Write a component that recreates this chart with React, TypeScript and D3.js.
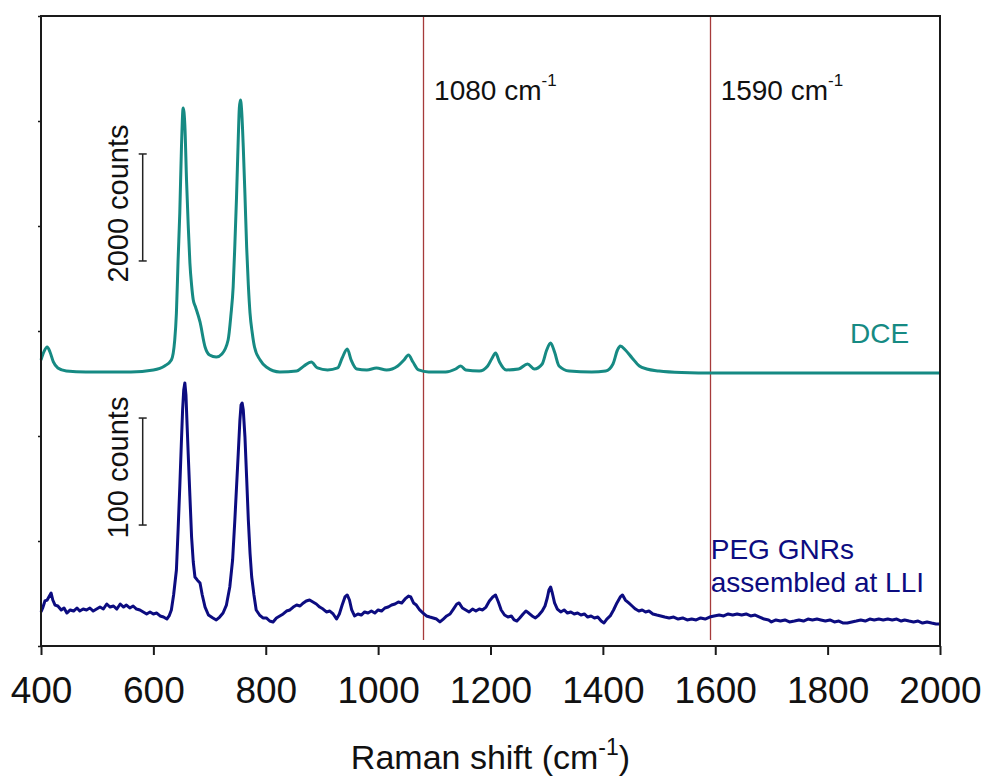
import React, { useEffect, useRef } from 'react';
import * as d3 from 'd3';

// Raman spectra of DCE and PEG GNRs assembled at the liquid-liquid interface
const WIDTH = 985;
const HEIGHT = 778;
const FONT = '"Liberation Sans", Arial, Helvetica, sans-serif';

const xTicks = [400, 600, 800, 1000, 1200, 1400, 1600, 1800, 2000];
const yTicks = [0, 1, 2, 3, 4, 5, 6];
const markerShifts = [1080, 1590];

// [Raman shift (cm-1), offset intensity (a.u.)]
const dceSpectrum: [number, number][] = [
  [400, 2.724], [405, 2.8], [411, 2.848], [416, 2.8], [422, 2.705], [430, 2.648], [445, 2.619],
  [480, 2.61], [520, 2.61], [560, 2.61], [600, 2.629], [620, 2.667], [632, 2.724], [638, 2.914],
  [641, 3.171], [644, 3.676], [647, 4.124], [650, 4.752], [653, 5.124], [656, 4.962], [659, 4.438],
  [662, 4.01], [665, 3.648], [668, 3.438], [671, 3.295], [675, 3.229], [683, 3.086], [692, 2.848],
  [700, 2.771], [712, 2.752], [722, 2.781], [733, 2.914], [738, 3.152], [742, 3.419], [745, 3.819],
  [748, 4.276], [751, 4.819], [753, 5.124], [755, 5.2], [757, 5.105], [760, 4.752], [763, 4.295],
  [766, 3.8], [769, 3.438], [772, 3.171], [776, 2.981], [780, 2.848], [790, 2.724], [801, 2.657],
  [825, 2.61], [855, 2.619], [868, 2.667], [881, 2.705], [892, 2.648], [910, 2.629], [928, 2.648],
  [936, 2.743], [945, 2.829], [952, 2.724], [962, 2.638], [980, 2.629], [997, 2.648], [1015, 2.629],
  [1035, 2.667], [1046, 2.724], [1054, 2.771], [1062, 2.705], [1072, 2.629], [1090, 2.61], [1120, 2.61],
  [1138, 2.638], [1147, 2.667], [1156, 2.629], [1180, 2.619], [1195, 2.667], [1203, 2.743], [1209, 2.79],
  [1216, 2.705], [1228, 2.629], [1250, 2.638], [1266, 2.686], [1278, 2.638], [1292, 2.686], [1300, 2.819],
  [1307, 2.886], [1314, 2.8], [1322, 2.667], [1340, 2.619], [1380, 2.61], [1405, 2.619], [1418, 2.686],
  [1426, 2.819], [1431, 2.857], [1440, 2.819], [1452, 2.743], [1465, 2.667], [1478, 2.638], [1500, 2.619],
  [1540, 2.605], [1600, 2.6], [1800, 2.6], [2000, 2.6],
];

const pegSpectrum: [number, number][] = [
  [400, 0.324], [403, 0.362], [407, 0.429], [411, 0.438], [415, 0.476], [418, 0.505], [421, 0.438],
  [425, 0.39], [430, 0.381], [436, 0.343], [441, 0.362], [446, 0.314], [452, 0.343], [458, 0.333],
  [464, 0.362], [469, 0.333], [475, 0.352], [481, 0.343], [487, 0.362], [493, 0.333], [499, 0.352],
  [505, 0.371], [511, 0.352], [517, 0.4], [523, 0.371], [529, 0.381], [535, 0.352], [541, 0.4],
  [547, 0.371], [552, 0.39], [558, 0.362], [564, 0.381], [570, 0.352], [576, 0.343], [582, 0.324],
  [588, 0.305], [594, 0.324], [600, 0.305], [606, 0.314], [612, 0.286], [618, 0.276], [624, 0.257],
  [628, 0.286], [632, 0.343], [636, 0.486], [641, 0.724], [644, 1.105], [647, 1.514], [650, 1.962],
  [652, 2.248], [654, 2.438], [656, 2.505], [658, 2.39], [660, 2.105], [662, 1.829], [665, 1.429],
  [668, 1.038], [671, 0.8], [674, 0.657], [678, 0.629], [683, 0.6], [687, 0.486], [692, 0.371],
  [698, 0.295], [706, 0.267], [712, 0.248], [718, 0.276], [724, 0.314], [730, 0.39], [736, 0.562],
  [741, 0.819], [745, 1.2], [748, 1.514], [751, 1.829], [754, 2.152], [756, 2.295], [758, 2.314],
  [760, 2.248], [763, 1.99], [766, 1.6], [769, 1.2], [772, 0.886], [775, 0.657], [779, 0.486],
  [783, 0.343], [789, 0.295], [795, 0.267], [801, 0.267], [807, 0.238], [813, 0.229], [819, 0.267],
  [825, 0.286], [831, 0.305], [837, 0.333], [843, 0.343], [849, 0.371], [855, 0.39], [861, 0.381],
  [867, 0.41], [872, 0.429], [878, 0.438], [884, 0.419], [890, 0.4], [896, 0.371], [902, 0.352],
  [908, 0.324], [914, 0.333], [920, 0.305], [926, 0.257], [931, 0.305], [936, 0.39], [941, 0.467],
  [945, 0.486], [949, 0.438], [953, 0.343], [958, 0.286], [964, 0.305], [970, 0.295], [976, 0.324],
  [982, 0.314], [988, 0.333], [994, 0.314], [1000, 0.343], [1006, 0.333], [1012, 0.362], [1018, 0.371],
  [1024, 0.39], [1030, 0.4], [1036, 0.419], [1042, 0.41], [1048, 0.448], [1054, 0.476], [1058, 0.467],
  [1063, 0.41], [1068, 0.39], [1074, 0.343], [1080, 0.314], [1086, 0.286], [1092, 0.276], [1098, 0.267],
  [1104, 0.257], [1110, 0.229], [1116, 0.257], [1122, 0.286], [1128, 0.305], [1134, 0.352], [1140, 0.4],
  [1144, 0.41], [1150, 0.362], [1156, 0.343], [1162, 0.324], [1168, 0.352], [1174, 0.333], [1180, 0.352],
  [1186, 0.343], [1192, 0.371], [1198, 0.429], [1204, 0.467], [1209, 0.486], [1214, 0.419], [1219, 0.343],
  [1225, 0.295], [1231, 0.276], [1237, 0.286], [1242, 0.248], [1247, 0.238], [1252, 0.267], [1258, 0.305],
  [1263, 0.333], [1268, 0.314], [1274, 0.286], [1280, 0.267], [1286, 0.295], [1292, 0.333], [1297, 0.381],
  [1301, 0.457], [1304, 0.533], [1307, 0.562], [1310, 0.505], [1314, 0.41], [1319, 0.352], [1325, 0.324],
  [1331, 0.343], [1337, 0.314], [1343, 0.324], [1349, 0.305], [1355, 0.314], [1361, 0.295], [1367, 0.305],
  [1373, 0.276], [1379, 0.286], [1385, 0.267], [1391, 0.276], [1397, 0.238], [1402, 0.219], [1407, 0.257],
  [1413, 0.286], [1419, 0.343], [1425, 0.41], [1431, 0.467], [1435, 0.486], [1440, 0.438], [1446, 0.41],
  [1452, 0.381], [1458, 0.352], [1464, 0.333], [1470, 0.343], [1476, 0.324], [1482, 0.333], [1489, 0.305],
  [1496, 0.295], [1503, 0.286], [1510, 0.276], [1518, 0.267], [1526, 0.276], [1534, 0.257], [1542, 0.267],
  [1550, 0.248], [1558, 0.257], [1566, 0.248], [1574, 0.267], [1582, 0.257], [1590, 0.276], [1598, 0.286],
  [1607, 0.295], [1615, 0.286], [1623, 0.305], [1631, 0.295], [1639, 0.305], [1647, 0.295], [1655, 0.305],
  [1663, 0.286], [1671, 0.295], [1679, 0.276], [1687, 0.257], [1695, 0.248], [1700, 0.229], [1708, 0.248],
  [1716, 0.238], [1724, 0.248], [1732, 0.229], [1741, 0.238], [1749, 0.248], [1757, 0.238], [1765, 0.257],
  [1773, 0.248], [1781, 0.257], [1788, 0.248], [1796, 0.238], [1804, 0.248], [1812, 0.229], [1820, 0.238],
  [1828, 0.219], [1835, 0.219], [1843, 0.229], [1851, 0.238], [1859, 0.248], [1867, 0.238], [1875, 0.257],
  [1883, 0.248], [1891, 0.257], [1899, 0.248], [1907, 0.257], [1915, 0.248], [1923, 0.257], [1931, 0.238],
  [1937, 0.248], [1945, 0.238], [1953, 0.229], [1961, 0.238], [1969, 0.219], [1977, 0.229], [1985, 0.219],
  [1993, 0.21], [2000, 0.21],
];

// vertical scale bars (a.u. range they span)
const scaleBars = [
  { label: '2000 counts', from: 3.667, to: 4.686 },
  { label: '100 counts', from: 1.152, to: 2.171 },
];

const DCE_COLOR = '#168a83';
const PEG_COLOR = '#0c0c80';
const MARKER_COLOR = '#a63a3a';

const App = () => {
  const svgRef = useRef<SVGSVGElement>(null);

  useEffect(() => {
    const svg = d3.select(svgRef.current);
    svg.selectAll('*').remove();

    const margin = { top: 16, right: 45, bottom: 132, left: 41 };
    const width = WIDTH - margin.left - margin.right;
    const height = HEIGHT - margin.top - margin.bottom;

    const g = svg.append('g').attr('transform', `translate(${margin.left},${margin.top})`);

    const x = d3.scaleLinear().domain([400, 2000]).range([0, width]);
    const y = d3.scaleLinear().domain([0, 6]).range([height, 0]);

    // marker lines (snapped to the pixel grid so they stay crisp)
    markerShifts.forEach(s => {
      const xs = Math.round(x(s)) + 0.5;
      g.append('line')
        .attr('x1', xs).attr('x2', xs)
        .attr('y1', 0).attr('y2', height - 6)
        .attr('stroke', MARKER_COLOR)
        .attr('stroke-width', 1.3);

      const t = g.append('text')
        .attr('x', x(s) + 11)
        .attr('y', y(5.2))
        .style('font-family', FONT)
        .style('font-size', '28px')
        .attr('fill', '#111');
      t.append('tspan').text(`${s} cm`);
      t.append('tspan').attr('dy', -14).style('font-size', '17px').text('-1');
    });

    // spectra
    const line = d3.line<[number, number]>()
      .x(d => x(d[0]))
      .y(d => y(d[1]));

    g.append('path')
      .datum(dceSpectrum)
      .attr('fill', 'none')
      .attr('stroke', DCE_COLOR)
      .attr('stroke-width', 3)
      .attr('stroke-linejoin', 'round')
      .attr('d', line.curve(d3.curveMonotoneX));

    g.append('path')
      .datum(pegSpectrum)
      .attr('fill', 'none')
      .attr('stroke', PEG_COLOR)
      .attr('stroke-width', 3)
      .attr('stroke-linejoin', 'round')
      .attr('d', line.curve(d3.curveLinear));

    // frame
    g.append('rect')
      .attr('x', 0).attr('y', 0)
      .attr('width', width).attr('height', height)
      .attr('fill', 'none')
      .attr('stroke', '#1a1a1a')
      .attr('stroke-width', 2);

    // axes
    const xAxis = g.append('g')
      .attr('transform', `translate(0,${height})`)
      .call(d3.axisBottom(x).tickValues(xTicks).tickSize(9).tickPadding(22).tickFormat(d3.format('d')));
    xAxis.select('.domain').remove();
    xAxis.selectAll('line').attr('stroke', '#1a1a1a').attr('stroke-width', 2);
    xAxis.selectAll('text')
      .style('font-family', FONT)
      .style('font-size', '37px')
      .attr('fill', '#111');

    const yAxis = g.append('g')
      .call(d3.axisLeft(y).tickValues(yTicks).tickSize(3).tickFormat(() => ''));
    yAxis.select('.domain').remove();
    yAxis.selectAll('line').attr('stroke', '#1a1a1a').attr('stroke-width', 1.5);

    // axis title
    const title = g.append('text')
      .attr('x', width / 2)
      .attr('y', HEIGHT - margin.top - 9)
      .attr('text-anchor', 'middle')
      .style('font-family', FONT)
      .style('font-size', '34px')
      .attr('fill', '#111');
    title.append('tspan').text('Raman shift (cm');
    title.append('tspan').attr('dy', -14).style('font-size', '23px').text('-1');
    title.append('tspan').attr('dy', 14).text(')');

    // scale bars
    const barX = x(581);
    scaleBars.forEach(b => {
      const y0 = y(b.from);
      const y1 = y(b.to);
      const bar = g.append('g').attr('stroke', '#222').attr('stroke-width', 1.5);
      bar.append('line').attr('x1', barX).attr('x2', barX).attr('y1', y0).attr('y2', y1);
      bar.append('line').attr('x1', barX - 4).attr('x2', barX + 4).attr('y1', y0).attr('y2', y0);
      bar.append('line').attr('x1', barX - 4).attr('x2', barX + 4).attr('y1', y1).attr('y2', y1);

      g.append('text')
        .attr('transform', `translate(${barX - 15},${(y0 + y1) / 2 - 4}) rotate(-90)`)
        .attr('text-anchor', 'middle')
        .style('font-family', FONT)
        .style('font-size', '29px')
        .attr('fill', '#111')
        .text(b.label);
    });

    // series labels
    g.append('text')
      .attr('x', x(1945))
      .attr('y', y(2.886))
      .attr('text-anchor', 'end')
      .style('font-family', FONT)
      .style('font-size', '28px')
      .attr('fill', DCE_COLOR)
      .text('DCE');

    const peg = g.append('text')
      .attr('x', x(1592))
      .attr('y', y(0.829))
      .style('font-family', FONT)
      .style('font-size', '28px')
      .attr('fill', PEG_COLOR);
    peg.append('tspan').text('PEG GNRs');
    peg.append('tspan').attr('x', x(1592)).attr('dy', 33.5).text('assembled at LLI');
  }, []);

  return (
    <div style={{ position: 'absolute', left: 0, top: 0 }}>
      <svg ref={svgRef} width={WIDTH} height={HEIGHT} style={{ display: 'block', background: '#fff' }} />
    </div>
  );
};

export default App;
